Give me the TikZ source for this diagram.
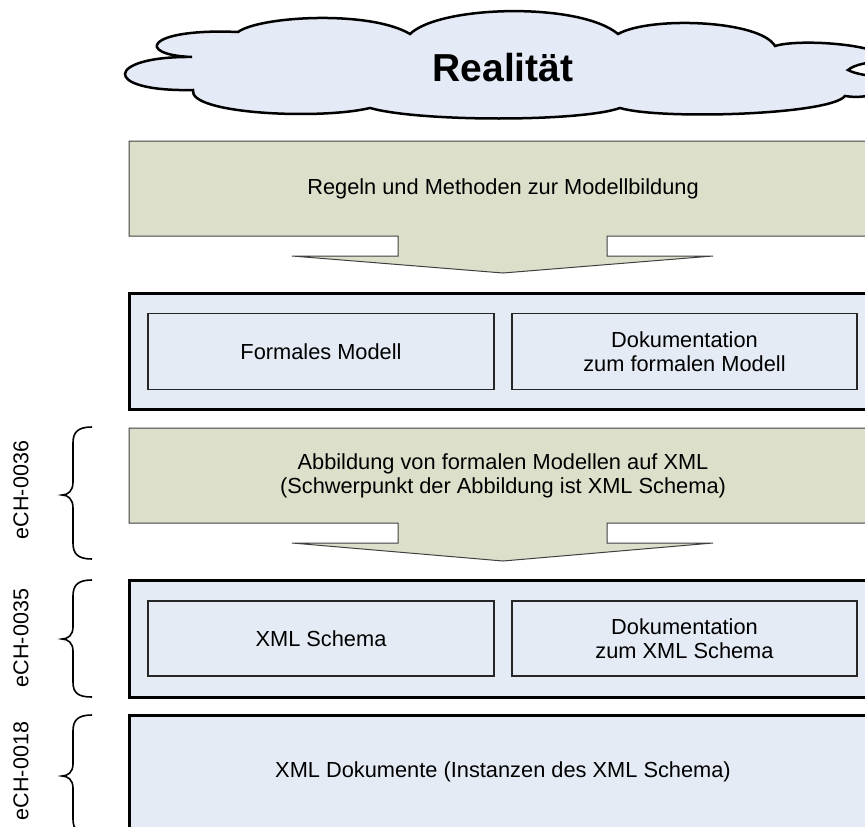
\documentclass[tikz,border=0pt]{standalone}
\usepackage{fontspec}
\setmainfont{Liberation Sans}
\definecolor{olivefill}{HTML}{DCE0CA}
\definecolor{bluefill}{HTML}{E5EBF5}
\definecolor{cloudfill}{HTML}{E4EAF6}
\begin{document}
\begin{tikzpicture}[x=1pt,y=-1pt,
  greenarrow/.style={draw=black!75,line width=1pt,fill=olivefill,line join=miter},
  bluebox/.style={draw=black,line width=3pt,fill=bluefill,inner sep=0pt},
  innerbox/.style={draw=black!85,line width=1.5pt,fill=bluefill,inner sep=0pt,align=center,font=\fontsize{21.8}{23.5}\selectfont},
  txt/.style={align=center,font=\fontsize{21.8}{23.5}\selectfont,inner sep=0pt},
  bracest/.style={draw=black,line width=1.6pt},
  lbl/.style={rotate=90,font=\fontsize{21.5}{24}\selectfont,inner sep=0pt},
  cloudst/.style={draw=black,line width=2.5pt,fill=cloudfill}]
\useasboundingbox (0,0) rectangle (865,827);
\clip (0,0) rectangle (865,827);
% cloud
\draw[cloudst] (192,57)
 .. controls (105,56) and (100,92) .. (193,90)
 .. controls (188,114) and (320,120) .. (370,108)
 .. controls (420,122) and (580,122) .. (620,108)
 .. controls (660,120) and (830,115) .. (845,96)
 .. controls (870,100) and (890,90) .. (885,78)
 .. controls (870,76) and (855,74) .. (848,70)
 .. controls (855,64) and (870,62) .. (885,61)
 .. controls (890,45) and (800,38) .. (775,46)
 .. controls (760,20) and (650,16) .. (618,34)
 .. controls (580,2) and (440,5) .. (410,34)
 .. controls (370,10) and (260,16) .. (238,32)
 .. controls (145,28) and (135,55) .. (192,57) -- cycle;
\node[font=\bfseries\fontsize{39}{44}\selectfont,inner sep=0pt] (real) at (503,68) {Realität};
% green arrow 1
\draw[greenarrow] (129,141) -- (875,141) -- (875,236) -- (607,236) -- (607,256) -- (713,256) -- (503,273) -- (292,256) -- (398,256) -- (398,236) -- (129,236) -- cycle;
\node[txt] (regeln) at (503,189) {Regeln und Methoden zur Modellbildung};
% blue box 1
\node[bluebox,minimum width=751pt,minimum height=116pt] (model) at (504.5,351) {};
\node[innerbox,minimum width=346pt,minimum height=76pt] (formal) at (321,351.5) {Formales Modell};
\node[innerbox,minimum width=345pt,minimum height=76pt] (doku1) at (684.5,351.5) {Dokumentation\\zum formalen Modell};
% green arrow 2
\draw[greenarrow] (129,428) -- (875,428) -- (875,523) -- (607,523) -- (607,543) -- (713,543) -- (503,561) -- (292,543) -- (398,543) -- (398,523) -- (129,523) -- cycle;
\node[txt] (abb) at (503,476) {Abbildung von formalen Modellen auf XML\\(Schwerpunkt der Abbildung ist XML Schema)};
% blue box 2
\node[bluebox,minimum width=751pt,minimum height=117pt] (schema) at (504.5,638.5) {};
\node[innerbox,minimum width=346pt,minimum height=75pt] (xsd) at (321,638.5) {XML Schema};
\node[innerbox,minimum width=345pt,minimum height=75pt] (doku2) at (684.5,638.5) {Dokumentation\\zum XML Schema};
% blue box 3
\node[bluebox,minimum width=751pt,minimum height=140pt] (docs) at (504.5,785) {};
\node[txt] (docstxt) at (503,772) {XML Dokumente (Instanzen des XML Schema)};
% braces
\draw[bracest] (92,427) .. controls (78,427) and (73,432) .. (73,443) -- (73,482)
  .. controls (73,491) and (68,495) .. (62,495) .. controls (68,495) and (73,499) .. (73,508)
  -- (73,543) .. controls (73,554) and (78,559) .. (92,559);
\node[lbl] (e36) at (21,490) {eCH-0036};
\draw[bracest] (92,580) .. controls (78,580) and (73,585) .. (73,596) -- (73,627)
  .. controls (73,635) and (68,639) .. (62,639) .. controls (68,639) and (73,643) .. (73,651)
  -- (73,682) .. controls (73,693) and (78,697) .. (92,697);
\node[lbl] (e35) at (21,638) {eCH-0035};
\draw[bracest] (92,715) .. controls (78,715) and (73,720) .. (73,731) -- (73,764)
  .. controls (73,772) and (68,776) .. (62,776) .. controls (68,776) and (73,780) .. (73,788)
  -- (73,819) .. controls (73,830) and (78,834) .. (92,834);
\node[lbl] (e18) at (21,771) {eCH-0018};
\end{tikzpicture}
\end{document}
